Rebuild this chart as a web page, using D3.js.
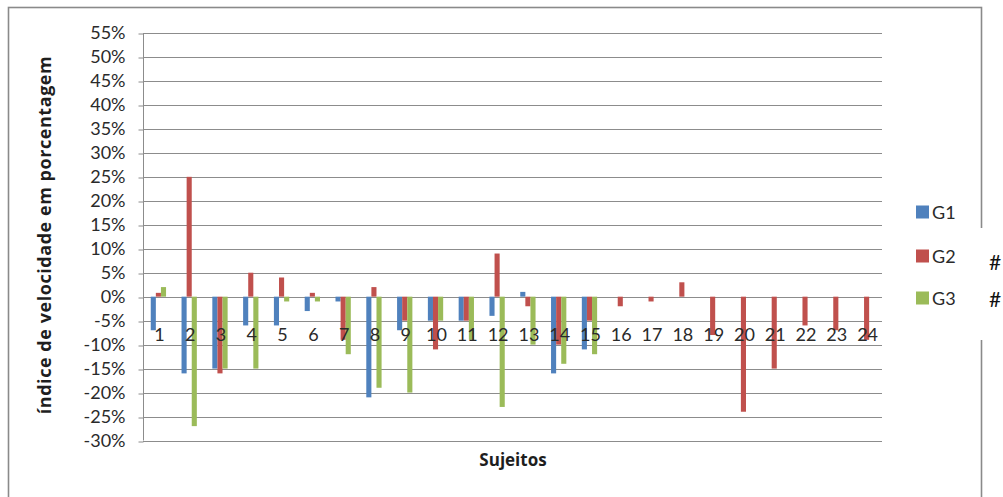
<!DOCTYPE html>
<html>
<head>
<meta charset="utf-8">
<script src="https://cdn.jsdelivr.net/npm/d3@7"></script>
<style>
  html, body { margin: 0; padding: 0; background: #fff; }
  svg { display: block; font-family: Lato, "Open Sans", sans-serif; }
</style>
</head>
<body>
<svg id="chart" width="1003" height="497"></svg>
<script>
// Subjects on the x axis
const categories = ["1","2","3","4","5","6","7","8","9","10","11","12",
                    "13","14","15","16","17","18","19","20","21","22","23","24"];
// Speed index (%) per subject for each group; null = no subject in that group
const g1 = [-7, -16, -15, -6, -6, -3, -1, -21, -7, -5, -5, -4, 1, -16, -11,
            null, null, null, null, null, null, null, null, null];
const g2 = [0.8, 25, -16, 5, 4, 0.8, -9, 2, -5, -11, -5, 9, -2, -10, -5,
            -2, -1, 3, -8, -24, -15, -6, -7, -9];
const g3 = [2, -27, -15, -15, -1, -1, -12, -19, -20, -5, -9, -23, -10, -14, -12,
            null, null, null, null, null, null, null, null, null];
const seriesNames = ["G1", "G2", "G3"];
const yTicks = [-30,-25,-20,-15,-10,-5,0,5,10,15,20,25,30,35,40,45,50,55];

const colors = ["#4F81BD", "#C0504D", "#9BBB59"];
const seriesValues = [g1, g2, g3];

const svg = d3.select("#chart");

// outer chart frame
svg.append("rect")
  .attr("x", 8.5).attr("y", 7.5)
  .attr("width", 973).attr("height", 520)
  .attr("fill", "#fff").attr("stroke", "#8a8a8a").attr("stroke-width", 1.6);

const plot = { left: 143, right: 882, top: 33, bottom: 440.5 };

const x = d3.scaleBand().domain(categories).range([plot.left, plot.right]);
const y = d3.scaleLinear().domain([-30, 55]).range([plot.bottom, plot.top]);
const barW = 5.1;
const inner = d3.scaleBand().domain(seriesNames)
  .range([-barW * 1.5, barW * 1.5]);

// horizontal gridlines
svg.append("g")
  .selectAll("line").data(yTicks).join("line")
  .attr("x1", plot.left).attr("x2", plot.right)
  .attr("y1", d => Math.round(y(d)) + 0.5).attr("y2", d => Math.round(y(d)) + 0.5)
  .attr("stroke", "#8c8c8c").attr("stroke-width", 1);

// y axis with outward ticks
const yAxis = svg.append("g")
  .attr("transform", `translate(${plot.left + 0.5},0)`)
  .call(d3.axisLeft(y).tickValues(yTicks).tickSize(5).tickPadding(13)
        .tickFormat(d => d + "%"));
yAxis.select(".domain").attr("stroke", "#8c8c8c").attr("d",
  `M-0,${plot.top}V${plot.bottom}`);
yAxis.selectAll(".tick line").attr("stroke", "#8c8c8c")
  .attr("transform", d => `translate(0,${Math.round(y(d)) + 0.5 - y(d)})`);
yAxis.selectAll(".tick text")
  .attr("font-family", "Lato, 'Open Sans', sans-serif")
  .attr("font-size", 18).attr("fill", "#2a2a2a");

// bars
seriesNames.forEach((name, si) => {
  const vals = seriesValues[si];
  svg.append("g").selectAll("rect")
    .data(categories.map((c, i) => ({ c, v: vals[i] })).filter(d => d.v !== null))
    .join("rect")
    .attr("x", d => x(d.c) + x.bandwidth() / 2 + inner(name))
    .attr("width", inner.bandwidth())
    .attr("y", d => y(Math.max(0, d.v)))
    .attr("height", d => Math.abs(y(d.v) - y(0)))
    .attr("fill", colors[si]);
});

// category labels
svg.append("g")
  .selectAll("text").data(categories).join("text")
  .attr("x", d => x(d) + x.bandwidth() / 2 + 1)
  .attr("y", 341)
  .attr("text-anchor", "middle")
  .attr("font-size", 18).attr("fill", "#2a2a2a")
  .text(d => d);

// axis titles
svg.append("text")
  .attr("transform", "translate(51,235) rotate(-90)")
  .attr("text-anchor", "middle")
  .attr("font-family", "'Open Sans', Lato, sans-serif")
  .attr("font-size", 18).attr("letter-spacing", 0.55)
  .attr("font-weight", "bold").attr("fill", "#1e1e1e")
  .text("índice de velocidade em porcentagem");

svg.append("text")
  .attr("x", 513).attr("y", 466)
  .attr("text-anchor", "middle")
  .attr("font-family", "'Open Sans', Lato, sans-serif")
  .attr("font-size", 17).attr("font-weight", "bold").attr("fill", "#1e1e1e")
  .text("Sujeitos");

// legend
const legendY = [212, 256, 298];
const legend = svg.append("g");
seriesNames.forEach((name, i) => {
  legend.append("rect")
    .attr("x", 916).attr("y", legendY[i] - 6.5)
    .attr("width", 13).attr("height", 13)
    .attr("fill", colors[i]);
  legend.append("text")
    .attr("x", 932).attr("y", legendY[i] + 6.5)
    .attr("font-size", 18).attr("fill", "#2a2a2a")
    .text(name);
});

// overflowing label markers at the right edge
svg.append("rect")
  .attr("x", 975).attr("y", 228).attr("width", 28).attr("height", 112)
  .attr("fill", "#fff");
svg.append("g").selectAll("text").data([270, 307]).join("text")
  .attr("x", 989).attr("y", d => d)
  .attr("font-size", 21).attr("fill", "#111")
  .text("#");
</script>
</body>
</html>
